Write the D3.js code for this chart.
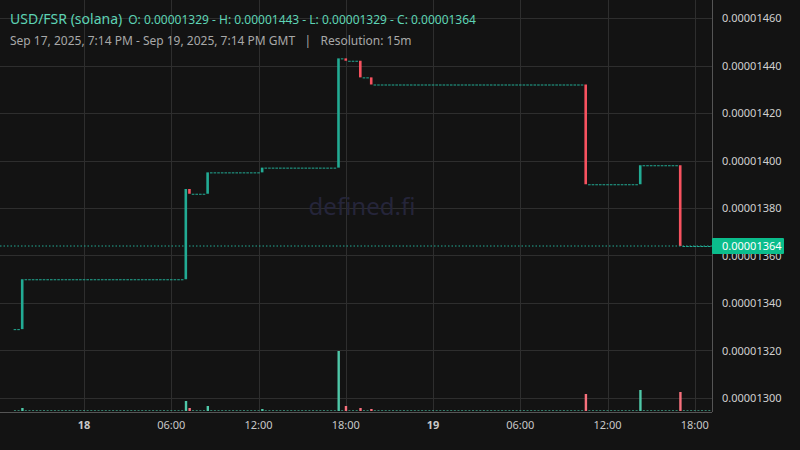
<!DOCTYPE html>
<html><head><meta charset="utf-8">
<script src="https://cdn.jsdelivr.net/npm/d3@7"></script>
<style>body{margin:0;background:#131313;}svg{display:block;font-family:"Noto Sans",sans-serif;}</style>
</head><body><svg id="c" width="800" height="450"></svg>
<script>
// ---- data ----
const startPrice = 0.00001329;
const barCount = 192; // 15m bars, Sep 17 19:14 -> Sep 19 19:14
const changeBars  = [2, 47, 48, 53, 68, 89, 91, 95, 98, 157, 172, 183];
const changeOpen  = [0.00001329,0.00001350,0.00001388,0.00001386,0.00001395,0.00001397,0.00001443,0.00001442,0.00001435,0.00001432,0.00001390,0.00001398];
const changeClose = [0.00001350,0.00001388,0.00001386,0.00001395,0.00001397,0.00001443,0.00001442,0.00001435,0.00001432,0.00001390,0.00001398,0.00001364];
const changeVol   = [3, 10, 3, 5, 2, 60, 5, 3, 2, 17, 21, 19];
const priceTicks = [0.00001300,0.00001320,0.00001340,0.00001360,0.00001380,0.00001400,0.00001420,0.00001440,0.00001460];
const timeTicks = ["2025-09-18T00:00Z","2025-09-18T06:00Z","2025-09-18T12:00Z","2025-09-18T18:00Z","2025-09-19T00:00Z","2025-09-19T06:00Z","2025-09-19T12:00Z","2025-09-19T18:00Z"];
const timeLabels = ["18","06:00","12:00","18:00","19","06:00","12:00","18:00"];
const lastClose = 0.00001364;

// build candles (flat between changes)
const t0 = new Date("2025-09-17T19:15Z").getTime();
const candles = [];
let p = startPrice;
for (let i = 0; i < barCount; i++) {
  const k = changeBars.indexOf(i);
  if (k >= 0) { candles.push({i, o: changeOpen[k], c: changeClose[k], v: changeVol[k]}); p = changeClose[k]; }
  else candles.push({i, o: p, c: p, v: 0.6});
}

// ---- chart ----
const svg = d3.select("#c");
const W = 800, H = 450, plotR = 712, plotT = 10, plotB = 412;
const x = d3.scaleTime().domain([new Date("2025-09-17T19:14Z"), new Date("2025-09-19T19:14Z")]).range([14.7, 712.7]);
const y = d3.scaleLinear().domain([0.00001300, 0.00001460]).range([398, 18]);
const vy = d3.scaleLinear().domain([0, 60]).range([411, 351]);
const green = "#22ab94", red = "#f7525f";
const bx = d => x(new Date(t0 + d.i * 900000));

svg.append("rect").attr("width", W).attr("height", H).attr("fill", "#131313");

// grid
svg.append("g").selectAll("line").data(priceTicks).join("line")
  .attr("x1", 0).attr("x2", plotR).attr("y1", d => Math.round(y(d)) + .5).attr("y2", d => Math.round(y(d)) + .5)
  .attr("stroke", "#2e2e2e");
svg.append("g").selectAll("line").data(timeTicks).join("line")
  .attr("x1", d => Math.round(x(new Date(d))) + .5).attr("x2", d => Math.round(x(new Date(d))) + .5)
  .attr("y1", 0).attr("y2", plotB).attr("stroke", "#2e2e2e");

// watermark
svg.append("text").attr("x", 362).attr("y", 215).attr("text-anchor", "middle")
  .attr("font-size", 24).attr("fill", "#25253a").text("defined.fi");

// volume
svg.append("g").selectAll("rect").data(candles).join("rect")
  .attr("x", d => bx(d) - 1).attr("width", d => d.v > 1 ? 2.4 : 2)
  .attr("y", d => vy(d.v)).attr("height", d => 411 - vy(d.v))
  .attr("fill", d => d.c < d.o ? "#f7707c" : "#4fc7a8");

// candles
svg.append("g").selectAll("rect").data(candles).join("rect")
  .attr("x", d => bx(d) - 1.3).attr("width", 2.6)
  .attr("y", d => Math.min(y(d.o), y(d.c)))
  .attr("height", d => Math.max(1, Math.abs(y(d.o) - y(d.c))))
  .attr("fill", d => d.c < d.o ? red : green);

// last price line
svg.append("line").attr("x1", 0).attr("x2", plotR).attr("y1", y(lastClose)).attr("y2", y(lastClose))
  .attr("stroke", green).attr("stroke-dasharray", "1.5,2");

// right axis
svg.append("line").attr("x1", plotR + .5).attr("x2", plotR + .5).attr("y1", 0).attr("y2", plotB).attr("stroke", "#555");
svg.append("line").attr("x1", 0).attr("x2", plotR).attr("y1", plotB + .5).attr("y2", plotB + .5).attr("stroke", "#555");
svg.append("g").selectAll("text").data(priceTicks).join("text")
  .attr("x", 722).attr("y", d => y(d) + 4).attr("font-size", 11).attr("fill", "#d0d0d0")
  .text(d => d.toFixed(8));
svg.append("rect").attr("x", 712).attr("y", y(lastClose) - 8).attr("width", 72).attr("height", 16).attr("rx", 1).attr("fill", "#0bbd8c");
svg.append("text").attr("x", 722).attr("y", y(lastClose) + 4).attr("font-size", 11).attr("fill", "#fff").text(lastClose.toFixed(8));

// time axis labels
svg.append("g").selectAll("text").data(timeTicks).join("text")
  .attr("x", d => x(new Date(d))).attr("y", 429).attr("text-anchor", "middle").attr("font-size", 11)
  .attr("font-weight", (d, i) => timeLabels[i].length <= 2 ? "bold" : "normal")
  .attr("fill", "#c8c8c8").text((d, i) => timeLabels[i]);

// header
const h = svg.append("text").attr("x", 10).attr("y", 24).attr("fill", "#5ed3b5");
h.append("tspan").attr("font-size", 14).text("USD/FSR (solana)");
h.append("tspan").attr("font-size", 12).attr("dx", 6).text("O: 0.00001329 - H: 0.00001443 - L: 0.00001329 - C: 0.00001364");
svg.append("text").attr("x", 10).attr("y", 45).attr("font-size", 12).attr("fill", "#a8a8a8")
  .attr("xml:space", "preserve").text("Sep 17, 2025, 7:14 PM - Sep 19, 2025, 7:14 PM GMT   |   Resolution: 15m");
</script></body></html>
